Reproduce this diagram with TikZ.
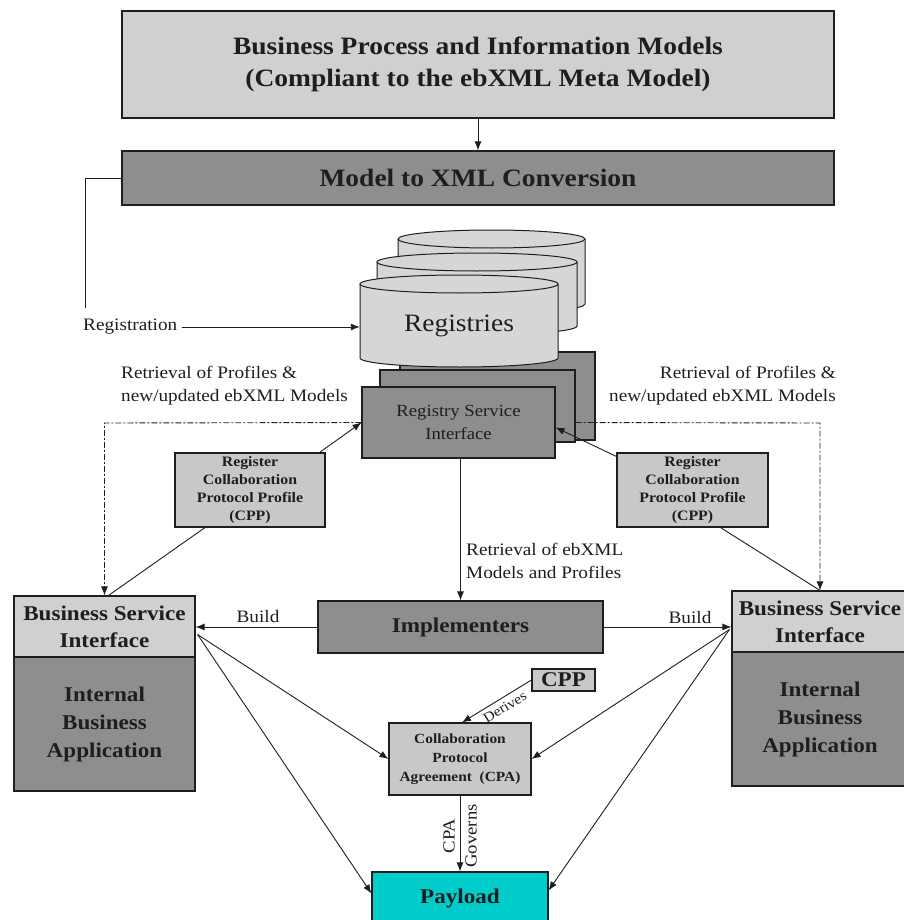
\documentclass[tikz,border=0pt]{standalone}
\usepackage{fontspec}
\setmainfont{Liberation Serif}[FakeStretch=1.1]
\usetikzlibrary{arrows.meta,calc}

\definecolor{paleGray}{RGB}{208,208,208}
\definecolor{midGray}{RGB}{142,142,142}
\definecolor{cppGray}{RGB}{200,200,200}
\definecolor{cylGray}{RGB}{214,214,214}
\definecolor{payCyan}{RGB}{0,204,204}
\definecolor{ink}{RGB}{30,30,30}

\tikzset{
  box/.style={draw=ink, line width=1.1pt, rectangle, inner sep=0pt, align=center, text=ink},
  conn/.style={draw=ink, line width=0.9pt},
  tip/.style={-{Latex[length=9pt,width=7pt]}},
  arr/.style={conn, tip},
  retr/.style={conn, dash pattern=on 6pt off 2pt on 2pt off 2pt},
  lbl/.style={font=\fontsize{17.5}{23}\selectfont, text=ink, inner sep=0pt},
  headfont/.style={font=\fontsize{25}{32}\selectfont\bfseries},
  bigbold/.style={font=\fontsize{21}{27}\selectfont\bfseries},
  appfont/.style={font=\fontsize{21}{28}\selectfont\bfseries},
  cppfont/.style={font=\fontsize{14.4}{18}\selectfont\bfseries},
}

% vertical cylinder: left x, right x, top-centre y, bottom-centre y
\newcommand\regcyl[4]{%
  \pgfmathsetmacro\cylcx{(#1+#2)/2}%
  \pgfmathsetmacro\cylrx{(#2-#1)/2}%
  \fill[cylGray] (#1,#3) -- (#1,#4)
     arc[start angle=180,end angle=360,x radius=\cylrx pt,y radius=9pt] -- (#2,#3) -- cycle;
  \draw[ink,line width=1pt] (#1,#3) -- (#1,#4)
     arc[start angle=180,end angle=360,x radius=\cylrx pt,y radius=9pt] -- (#2,#3);
  \filldraw[fill=cylGray,draw=ink,line width=1pt] (\cylcx,#3) ellipse[x radius=\cylrx pt,y radius=9pt];
}

\begin{document}
\begin{tikzpicture}[x=1pt,y=-1pt]
\useasboundingbox (0,0) rectangle (903,920);
\fill[white] (0,0) rectangle (903,920);

% models and conversion
\node[box, fill=paleGray, minimum width=712pt, minimum height=107pt, headfont] (bpim) at (478,64.5)
  {Business Process and Information Models\\(Compliant to the ebXML Meta Model)};
\node[box, fill=midGray, minimum width=712pt, minimum height=54pt, headfont] (xmlconv) at (478,178)
  {Model to XML Conversion};

% registry service interface stack and registries
\node[box, fill=midGray, minimum width=195pt, minimum height=88pt] (rsiback) at (497.5,396) {};
\regcyl{398}{585}{239}{304}
\regcyl{377}{577}{262}{326}
\regcyl{360}{558}{284}{358}
\node[font=\fontsize{25}{30}\selectfont, text=ink, inner sep=0pt, minimum width=198pt, minimum height=70pt] (registries) at (459,326) {Registries};
\node[box, fill=midGray, minimum width=195pt, minimum height=72pt] (rsimid) at (477.5,406) {};
\node[box, fill=midGray, minimum width=193pt, minimum height=71pt, font=\fontsize{17}{23}\selectfont] (rsi) at (458.5,422.5)
  {Registry Service\\Interface};

% CPP registration boxes
\node[box, fill=cppGray, minimum width=150pt, minimum height=74pt, cppfont] (cppL) at (250,490)
  {Register\\Collaboration\\Protocol Profile\\(CPP)};
\node[box, fill=cppGray, minimum width=151pt, minimum height=74pt, cppfont] (cppR) at (692.5,490)
  {Register\\Collaboration\\Protocol Profile\\(CPP)};

% implementers
\node[box, fill=midGray, minimum width=285pt, minimum height=52pt, bigbold] (impl) at (460.5,627) {Implementers};

% business service interfaces and internal applications
\node[box, fill=paleGray, minimum width=181pt, minimum height=61pt, bigbold] (bsiL) at (104.5,626.5)
  {Business Service\\Interface};
\node[box, fill=midGray, minimum width=181pt, minimum height=134pt, appfont] (ibaL) at (104.5,724)
  {Internal\\Business\\Application};
\node[box, fill=paleGray, minimum width=176pt, minimum height=61pt, bigbold] (bsiR) at (820,621.5)
  {Business Service\\Interface};
\node[box, fill=midGray, minimum width=176pt, minimum height=134pt, appfont] (ibaR) at (820,719)
  {Internal\\Business\\Application};

% agreement, profile and payload
\node[box, fill=cppGray, minimum width=142pt, minimum height=72pt, font=\fontsize{14}{19}\selectfont\bfseries] (cpa) at (460,759)
  {Collaboration\\Protocol\\Agreement~ (CPA)};
\node[box, fill=cppGray, minimum width=63pt, minimum height=22pt, font=\fontsize{21}{24}\selectfont\bfseries] (cppS) at (563.5,680) {CPP};
\node[box, fill=payCyan, minimum width=176pt, minimum height=53pt, bigbold] (payload) at (460,898.5) {Payload};

% labels
\node[lbl, anchor=west] (reglab) at (83,327) {Registration};
\node[lbl, anchor=west, align=left] (retrL) at (121,386) {Retrieval of Profiles \&\\new/updated ebXML Models};
\node[lbl, anchor=east, align=right] (retrR) at (836,386) {Retrieval of Profiles \&\\new/updated ebXML Models};
\node[lbl, anchor=west, align=left] (retrM) at (466,561) {Retrieval of ebXML\\Models and Profiles};
\node[lbl] (buildL) at (258,617) {Build};
\node[lbl] (buildR) at (690,618) {Build};
\node[font=\fontsize{17}{22}\selectfont, text=ink, inner sep=0pt, rotate=90, align=center] (governs) at (460,836) {CPA\\Governs};

% connectors
\coordinate (regdrop) at (85,308);
\coordinate (cornerL) at (104.5,423);
\coordinate (cornerR) at (820,423);

\draw[arr] (bpim.south) -- (xmlconv.north);
\draw[conn] (xmlconv.west) -| (regdrop);
\draw[arr] (reglab.east) ++(4,0) -- (reglab.east -| registries.west);

\draw[retr, tip] (rsi.west) -- (cornerL) -- (cornerL |- bsiL.north);
\draw[retr, tip] (rsi.west -| rsimid.east) -- (cornerR) -- (cornerR |- bsiR.north);

\draw[conn] ($(bsiL.north)+(4,0)$) -- ($(cppL.south)+(-45,0)$);
\draw[arr] ($(cppL.north east)+(-6,0)$) -- (rsi.west);
\draw[conn] (bsiR.north) -- ($(cppR.south)+(28,0)$);
\draw[arr] ($(cppR.north west)+(0,4)$) -- ($(rsi.east)+(0,5)$);

\draw[arr] (rsi.south -| impl.north) -- (impl.north);
\draw[arr] (impl.west) -- (bsiL.east |- impl.west);
\draw[arr] (impl.east) -- (bsiR.west |- impl.east);

\draw[arr] ($(bsiL.east)+(2,8)$) -- (cpa.west);
\draw[arr] ($(bsiL.east)+(2,8)$) -- ($(payload.west)+(0,-5)$);
\draw[arr] ($(bsiR.west)+(-2,8)$) -- (cpa.east);
\draw[arr] ($(bsiR.west)+(-2,8)$) -- ($(payload.east)+(0,-8)$);

\draw[conn, {Latex[length=9pt,width=7pt]}-] ($(cpa.north)+(2,0)$) --
  node[sloped, below=4pt, pos=0.55, font=\fontsize{14}{16}\selectfont, text=ink, inner sep=0pt] (derives) {Derives}
  (cppS.west);
\draw[arr] (cpa.south) -- (payload.north);
\end{tikzpicture}
\end{document}
